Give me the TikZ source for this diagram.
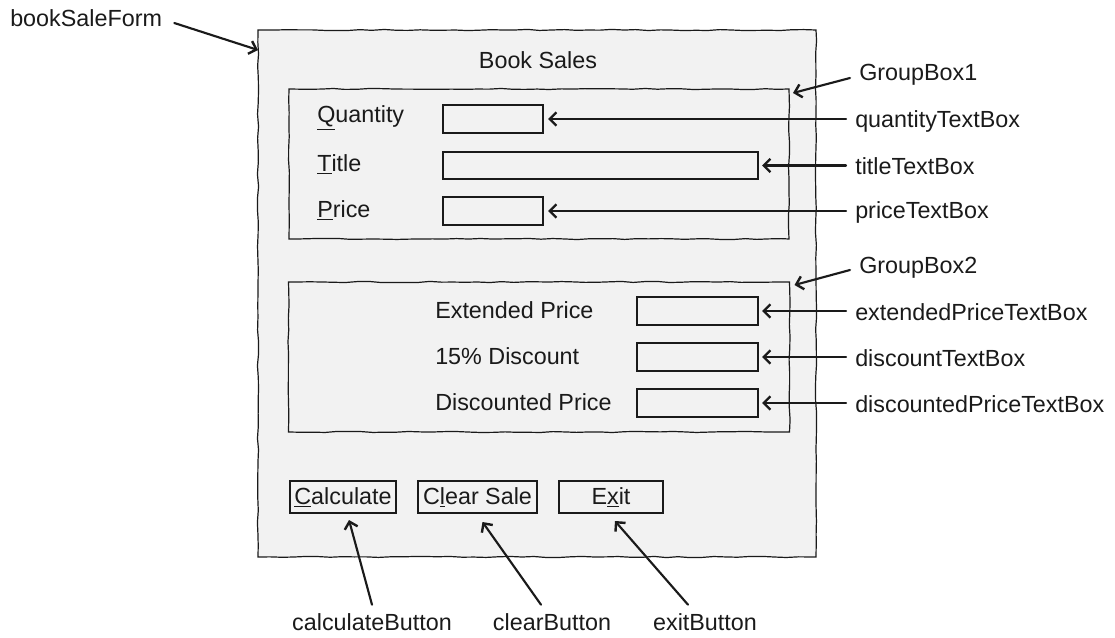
\documentclass[tikz,border=0pt]{standalone}
\usepackage{fontspec}
\setmainfont{Liberation Sans}
\usetikzlibrary{arrows.meta,decorations.pathmorphing}
\definecolor{formgray}{HTML}{F2F2F2}
\definecolor{ink}{HTML}{1A1A1A}
\newcommand{\ulc}[1]{\underline{#1}}
\begin{document}
\begin{tikzpicture}[x=0.75pt,y=-0.75pt,
  font=\fontsize{17.5}{21}\selectfont, text=ink,
  size/.style 2 args={minimum width=#1*0.75pt, minimum height=#2*0.75pt},
  sketchy/.style={decorate, decoration={random steps, segment length=9pt, amplitude=0.45pt}},
  panel/.style={draw=ink, line width=0.9pt, fill=formgray, inner sep=0pt, outer sep=0pt, sketchy},
  field/.style={draw=ink, line width=0.9pt, fill=formgray, inner sep=0pt, outer sep=0pt},
  caption/.style={inner sep=0pt, anchor=west},
  tag/.style={inner xsep=6.75pt, inner ysep=1.5pt, anchor=west},
  pointer/.style={draw=ink, line width=1.6pt, line cap=round, -{Straight Barb[length=5pt,width=10pt,line width=1.8pt]}}
]
\pgfmathsetseed{7}
\useasboundingbox (0,0) rectangle (1115,638);

% the form and its two group boxes
\node[panel, size={558}{527}] (form) at (537,293.5) {};
\node (title) at (538,60) {Book Sales};
\node[panel, size={500}{150}] (gb1) at (539,164) {};
\node[panel, size={501}{150}] (gb2) at (539,357) {};

% input fields
\node[caption] (qtyCap) at (317,118) {\ulc{Q}uantity};
\node[caption] (titleCap) at (317,164) {\ulc{T}itle};
\node[caption] (priceCap) at (317,210) {\ulc{P}rice};
\node[field, size={100}{28}] (qtyBox) at (493,119) {};
\node[field, size={315}{27}] (titleBox) at (600.5,165.5) {};
\node[field, size={100}{28}] (priceBox) at (493,211) {};

% output fields
\node[caption] (extCap) at (435,310) {Extended Price};
\node[caption] (discCap) at (435,356) {15\% Discount};
\node[caption] (dpCap) at (435,402) {Discounted Price};
\node[field, size={121}{28}] (extBox) at (697.5,311) {};
\node[field, size={121}{28}] (discBox) at (697.5,357) {};
\node[field, size={121}{28}] (dpBox) at (697.5,403) {};

% buttons
\node[field, size={106}{32}] (calcBtn) at (343,497) {\ulc{C}alculate};
\node[field, size={119}{32}] (clrBtn) at (477.5,497) {C\ulc{l}ear Sale};
\node[field, size={104}{32}] (exitBtn) at (611,497) {E\ulc{x}it};

% control names
\node[tag, inner xsep=0pt] (formTag) at (10,18) {bookSaleForm};
\node[tag] (gb1Tag) at (850,75) {GroupBox1};
\node[tag] (qtyTag) at (846,121) {quantityTextBox};
\node[tag] (titleTag) at (846,166) {titleTextBox};
\node[tag] (priceTag) at (846,212) {priceTextBox};
\node[tag] (gb2Tag) at (850,268) {GroupBox2};
\node[tag] (extTag) at (846,312) {extendedPriceTextBox};
\node[tag] (discTag) at (846,358) {discountTextBox};
\node[tag] (dpTag) at (846,404) {discountedPriceTextBox};
\node (calcTag) at (372,622) {calculateButton};
\node (clrTag) at (552,622) {clearButton};
\node (exitTag) at (705,622) {exitButton};

% pointers
\draw[pointer] ([shift={(12,5)}]formTag.east) -- ([shift={(0,20)}]form.north west);
\draw[pointer] ([shift={(0,3)}]gb1Tag.west) -- ([shift={(4,4)}]gb1.north east);
\draw[pointer] (qtyTag.west |- qtyBox.east) -- ([xshift=3.75pt]qtyBox.east);
\draw[pointer] (titleTag.west |- titleBox.east) -- ([xshift=3pt]titleBox.east);
\draw[pointer] (priceTag.west |- priceBox.east) -- ([xshift=3.75pt]priceBox.east);
\draw[pointer] ([shift={(0,2)}]gb2Tag.west) -- ([shift={(5,3)}]gb2.north east);
\draw[pointer] (extTag.west |- extBox.east) -- ([xshift=3pt]extBox.east);
\draw[pointer] (discTag.west |- discBox.east) -- ([xshift=3pt]discBox.east);
\draw[pointer] (dpTag.west |- dpBox.east) -- ([xshift=3pt]dpBox.east);
\draw[pointer] ([shift={(0,-4)}]calcTag.north) -- ([shift={(6,7)}]calcBtn.south);
\draw[pointer] ([shift={(-11,-4)}]clrTag.north) -- ([shift={(5,9)}]clrBtn.south);
\draw[pointer] ([shift={(-17,-4)}]exitTag.north) -- ([shift={(4,8)}]exitBtn.south);
\end{tikzpicture}
\end{document}
